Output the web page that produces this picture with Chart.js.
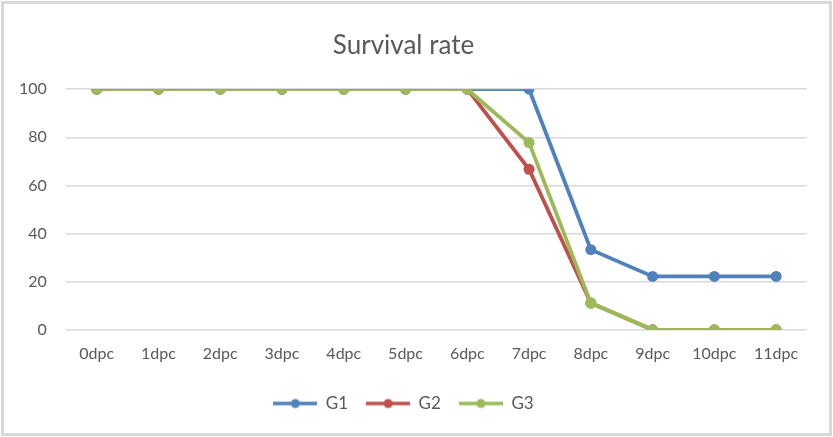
<!DOCTYPE html>
<html>
<head>
<meta charset="utf-8">
<script src="https://cdn.jsdelivr.net/npm/chart.js@4.4.1/dist/chart.umd.min.js"></script>
<style>
    html, body { margin: 0; padding: 0; background: #fff; }
    #wrap { width: 833px; height: 437px; position: relative; }
</style>
</head>
<body>
<div id="wrap"><canvas id="survival-chart" width="833" height="437"></canvas></div>
<script>
var days = ['0dpc', '1dpc', '2dpc', '3dpc', '4dpc', '5dpc', '6dpc', '7dpc', '8dpc', '9dpc', '10dpc', '11dpc'];
var g1 = [100, 100, 100, 100, 100, 100, 100, 100, 33.3, 22.2, 22.2, 22.2];
var g2 = [100, 100, 100, 100, 100, 100, 100, 66.7, 11.1, 0, 0, 0];
var g3 = [100, 100, 100, 100, 100, 100, 100, 77.8, 11.1, 0, 0, 0];
var yTicks = [0, 20, 40, 60, 80, 100];

var textColor = '#595959';
var gridColor = '#d9d9d9';
var fontFamily = 'Lato, "Open Sans", sans-serif';

// legend marker: short line with a dot in the middle
function legendMarker(color) {
    var c = document.createElement('canvas');
    c.width = 44;
    c.height = 12;
    var ctx = c.getContext('2d');
    ctx.strokeStyle = color;
    ctx.fillStyle = color;
    ctx.lineWidth = 3.5;
    ctx.beginPath();
    ctx.moveTo(0, 6);
    ctx.lineTo(44, 6);
    ctx.stroke();
    ctx.beginPath();
    ctx.arc(22, 6, 4.5, 0, Math.PI * 2);
    ctx.fill();
    return c;
}

function makeSeries(label, values, color, order) {
    return {
        label: label,
        data: values,
        order: order,
        borderColor: color,
        backgroundColor: color,
        borderWidth: 3.8,
        pointRadius: 5.5,
        pointHoverRadius: 5.5,
        pointBorderWidth: 0,
        pointStyle: 'circle',
        tension: 0,
        fill: false,
        marker: legendMarker(color)
    };
}

// light grey frame like the Excel chart area
var framePlugin = {
    id: 'frame',
    beforeDraw: function (chart) {
        var ctx = chart.ctx;
        ctx.save();
        ctx.fillStyle = '#fff';
        ctx.fillRect(0, 0, chart.width, chart.height);
        ctx.strokeStyle = gridColor;
        ctx.lineWidth = 3;
        ctx.strokeRect(2.5, 2.5, chart.width - 5, chart.height - 5);
        ctx.restore();
    }
};

new Chart(document.getElementById('survival-chart'), {
    type: 'line',
    plugins: [framePlugin],
    data: {
        labels: days,
        datasets: [
            makeSeries('G1', g1, '#4f81bd', 2),
            makeSeries('G2', g2, '#c0504d', 1),
            makeSeries('G3', g3, '#9bbb59', 0)
        ]
    },
    options: {
        responsive: false,
        animation: false,
        layout: {padding: {left: 0, right: 26, top: 22, bottom: 15}},
        plugins: {
            title: {
                display: true,
                text: 'Survival rate',
                color: textColor,
                font: {family: fontFamily, size: 26, weight: 'normal'},
                padding: {top: 8, bottom: 28}
            },
            legend: {
                position: 'bottom',
                labels: {
                    color: textColor,
                    font: {family: fontFamily, size: 17},
                    usePointStyle: true,
                    pointStyleWidth: 44,
                    padding: 18,
                    sort: function (a, b) { return a.datasetIndex - b.datasetIndex; },
                    generateLabels: function (chart) {
                        return chart.data.datasets.map(function (ds, i) {
                            return {
                                text: ds.label,
                                datasetIndex: i,
                                fontColor: textColor,
                                pointStyle: ds.marker,
                                lineWidth: 0,
                                hidden: false
                            };
                        });
                    }
                }
            },
            tooltip: {enabled: false}
        },
        scales: {
            x: {
                offset: true,
                grid: {display: false, drawTicks: false},
                border: {display: false},
                ticks: {color: textColor, font: {family: fontFamily, size: 16}, padding: 14}
            },
            y: {
                min: 0,
                max: 100,
                afterBuildTicks: function (axis) {
                    axis.ticks = yTicks.map(function (v) { return {value: v}; });
                },
                grid: {color: gridColor, lineWidth: 1.5, drawTicks: false},
                border: {display: false},
                ticks: {color: textColor, font: {family: fontFamily, size: 16}, padding: 19}
            }
        }
    }
});
</script>
</body>
</html>
